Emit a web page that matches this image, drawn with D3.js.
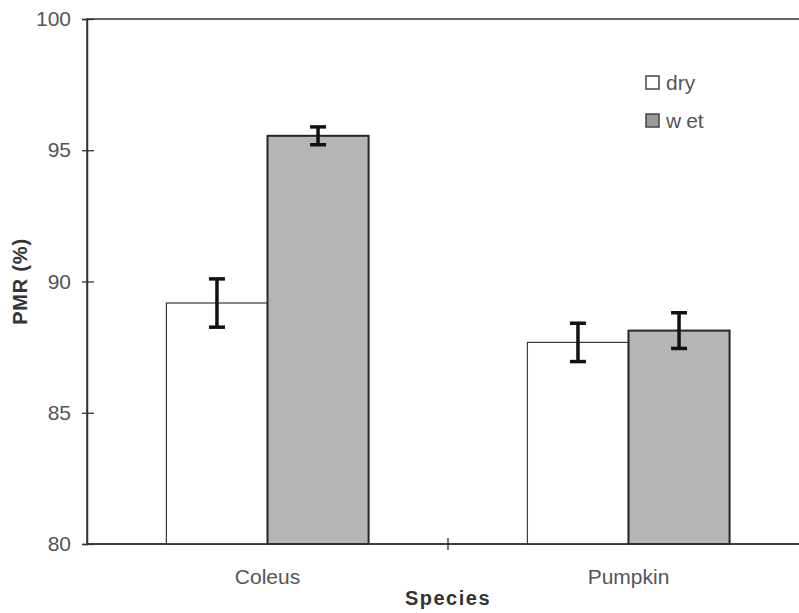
<!DOCTYPE html>
<html>
<head>
<meta charset="utf-8">
<script src="https://cdn.jsdelivr.net/npm/d3@7"></script>
<style>
  body { margin: 0; background: #fff; }
  svg { display: block; font-family: "Liberation Sans", Arial, sans-serif; }
</style>
</head>
<body>
<svg id="chart" width="799" height="613"></svg>
<script>
// data
const species = ["Coleus", "Pumpkin"];
const conditions = ["dry", "wet"];
const dryMean = [89.18, 87.68];
const dryErr = [0.92, 0.73];
const wetMean = [95.55, 88.13];
const wetErr = [0.34, 0.68];
const yTicks = [80, 85, 90, 95, 100];

const rows = species.map((s, i) => ({
    species: s,
    values: [
        { cond: "dry", mean: dryMean[i], err: dryErr[i] },
        { cond: "wet", mean: wetMean[i], err: wetErr[i] }
    ]
}));

const svg = d3.select("#chart");
const margin = { left: 87, top: 19, right: 809, bottom: 544 }; // plot runs past the right edge

const x0 = d3.scaleBand()
    .domain(species)
    .range([margin.left, margin.right])
    .paddingInner(0.44)
    .paddingOuter(0.22);

const x1 = d3.scaleBand()
    .domain(conditions)
    .range([0, x0.bandwidth()]);

const y = d3.scaleLinear()
    .domain([80, 100])
    .range([margin.bottom, margin.top]);

const FILL = { dry: "#ffffff", wet: "#b5b5b5" };
const STROKE = { dry: "#3a3a3a", wet: "#262626" };
const STROKE_W = { dry: 1.2, wet: 2 };
const TEXT_COL = "#555";
const FONT = 21;

// frame (top + right)
svg.append("rect")
    .attr("x", margin.left)
    .attr("y", margin.top)
    .attr("width", margin.right - margin.left)
    .attr("height", margin.bottom - margin.top)
    .attr("fill", "none")
    .attr("stroke", "#333")
    .attr("stroke-width", 1.5);

// bars
const group = svg.append("g")
    .selectAll("g")
    .data(rows)
    .join("g")
    .attr("transform", d => `translate(${x0(d.species)},0)`);

group.selectAll("rect")
    .data(d => d.values)
    .join("rect")
    .attr("x", d => x1(d.cond))
    .attr("y", d => y(d.mean))
    .attr("width", x1.bandwidth())
    .attr("height", d => y(80) - y(d.mean))
    .attr("fill", d => FILL[d.cond])
    .attr("stroke", d => STROKE[d.cond])
    .attr("stroke-width", d => STROKE_W[d.cond]);

// error bars
const capW = 8;
const err = group.selectAll("g.err")
    .data(d => d.values)
    .join("g")
    .attr("class", "err")
    .attr("stroke", "#111")
    .attr("stroke-width", 3.5);

err.append("line")
    .attr("x1", d => x1(d.cond) + x1.bandwidth() / 2)
    .attr("x2", d => x1(d.cond) + x1.bandwidth() / 2)
    .attr("y1", d => y(d.mean + d.err))
    .attr("y2", d => y(d.mean - d.err));

err.selectAll("line.cap")
    .data(d => [
        { cx: x1(d.cond) + x1.bandwidth() / 2, v: d.mean + d.err },
        { cx: x1(d.cond) + x1.bandwidth() / 2, v: d.mean - d.err }
    ])
    .join("line")
    .attr("class", "cap")
    .attr("x1", d => d.cx - capW)
    .attr("x2", d => d.cx + capW)
    .attr("y1", d => y(d.v))
    .attr("y2", d => y(d.v));

// y axis
const yAxis = svg.append("g")
    .attr("transform", `translate(${margin.left},0)`)
    .call(d3.axisLeft(y).tickValues(yTicks).tickSize(5).tickPadding(11));
yAxis.select(".domain").attr("stroke", "#333").attr("stroke-width", 1.5);
yAxis.selectAll(".tick line").attr("x1", 7).attr("x2", -5).attr("stroke", "#333").attr("stroke-width", 1.3);
yAxis.selectAll(".tick text")
    .attr("font-size", FONT)
    .attr("font-family", "Liberation Sans, Arial, sans-serif")
    .attr("fill", TEXT_COL);

// x axis
svg.append("line")
    .attr("x1", margin.left).attr("x2", margin.right)
    .attr("y1", margin.bottom).attr("y2", margin.bottom)
    .attr("stroke", "#333").attr("stroke-width", 1.5);

const step = x0.step();
const boundaries = species.map((s, i) => margin.left + step * (i + 1));
svg.append("g")
    .selectAll("line")
    .data(boundaries)
    .join("line")
    .attr("x1", d => d).attr("x2", d => d)
    .attr("y1", margin.bottom - 6).attr("y2", margin.bottom + 6)
    .attr("stroke", "#333").attr("stroke-width", 1.3);

svg.append("g")
    .selectAll("text")
    .data(species)
    .join("text")
    .attr("x", d => x0(d) + x0.bandwidth() / 2)
    .attr("y", 584)
    .attr("text-anchor", "middle")
    .attr("font-size", FONT)
    .attr("fill", TEXT_COL)
    .text(d => d);

// axis titles
svg.append("text")
    .attr("x", (margin.left + margin.right) / 2)
    .attr("y", 605)
    .attr("text-anchor", "middle")
    .attr("font-size", 20)
    .attr("font-weight", "bold")
    .attr("letter-spacing", 1.5)
    .attr("fill", "#333")
    .text("Species");

svg.append("text")
    .attr("transform", `translate(27,${(margin.top + margin.bottom) / 2}) rotate(-90)`)
    .attr("text-anchor", "middle")
    .attr("font-size", 20)
    .attr("font-weight", "bold")
    .attr("letter-spacing", 0.8)
    .attr("fill", "#333")
    .text("PMR (%)");

// legend
const legend = svg.append("g")
    .attr("transform", "translate(646,76)")
    .selectAll("g")
    .data(conditions)
    .join("g")
    .attr("transform", (d, i) => `translate(0,${i * 38})`);

legend.append("rect")
    .attr("width", 13).attr("height", 13)
    .attr("fill", d => d === "wet" ? "#9a9a9a" : "#fff")
    .attr("stroke", "#444")
    .attr("stroke-width", 1.5);

legend.append("text")
    .attr("x", 20)
    .attr("y", 7)
    .attr("dy", "0.35em")
    .attr("font-size", FONT)
    .attr("fill", TEXT_COL)
    .each(function(d) {
        const t = d3.select(this);
        if (d === "wet") {
            t.append("tspan").text("w");
            t.append("tspan").attr("dx", 5).text("et");
        } else {
            t.text(d);
        }
    });
</script>
</body>
</html>
